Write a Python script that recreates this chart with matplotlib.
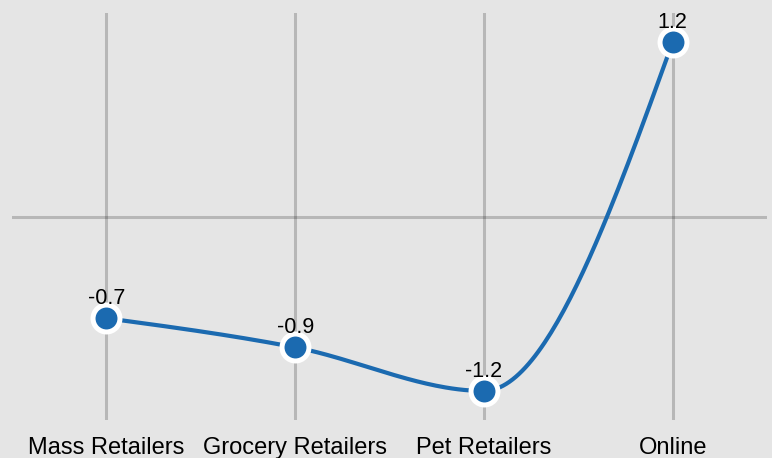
import numpy as np
import matplotlib
matplotlib.use("Agg")
import matplotlib.pyplot as plt

categories = ["Mass Retailers", "Grocery Retailers", "Pet Retailers", "Online"]
values = [-0.7, -0.9, -1.2, 1.2]
value_labels = ["-0.7", "-0.9", "-1.2", "1.2"]

BG = "#e5e5e5"
LINE = "#1b6ab0"

plt.rcParams["font.family"] = ["Liberation Sans", "DejaVu Sans"]


def monotone_x(xs, ys, n=60):
    xs = np.asarray(xs, float)
    ys = np.asarray(ys, float)
    h = np.diff(xs)
    s = np.diff(ys) / h
    m = len(xs)
    t = np.zeros(m)
    for i in range(1, m - 1):
        p = (s[i - 1] * h[i] + s[i] * h[i - 1]) / (h[i - 1] + h[i])
        t[i] = (np.sign(s[i - 1]) + np.sign(s[i])) * min(abs(s[i - 1]), abs(s[i]), 0.5 * abs(p))
    t[0] = (3 * s[0] - t[1]) / 2
    t[-1] = (3 * s[-1] - t[-2]) / 2
    px, py = [], []
    for i in range(m - 1):
        u = np.linspace(0, 1, n)
        h00 = 2 * u**3 - 3 * u**2 + 1
        h10 = u**3 - 2 * u**2 + u
        h01 = -2 * u**3 + 3 * u**2
        h11 = u**3 - u**2
        yy = h00 * ys[i] + h10 * h[i] * t[i] + h01 * ys[i + 1] + h11 * h[i] * t[i + 1]
        xx = xs[i] + u * h[i]
        px.append(xx)
        py.append(yy)
    return np.concatenate(px), np.concatenate(py)


W, H = 772, 458
fig = plt.figure(figsize=(W / 100, H / 100), dpi=100, facecolor=BG)
ax = fig.add_axes([12 / W, (H - 420) / H, (767 - 12) / W, (420 - 13) / H])
ax.set_facecolor(BG)

x = np.arange(len(categories))
ax.set_xlim(-0.5, len(categories) - 0.5)
ax.set_ylim(-1.4, 1.4)

for xi in x:
    ax.axvline(xi, color="black", alpha=0.2, lw=2.2, zorder=1)
ax.axhline(0, color="black", alpha=0.2, lw=2.2, zorder=1)

cx, cy = monotone_x(x, values)
ax.plot(cx, cy, color=LINE, lw=3.0, zorder=3, solid_capstyle="round")
ax.plot(x, values, "o", ms=19.4, mfc=LINE, mec="white", mew=3.6, zorder=4)

for xi, v, lab in zip(x, values, value_labels):
    ax.annotate(lab, (xi, v), xytext=(0, 10), textcoords="offset points",
                ha="center", va="baseline", fontsize=15.5, color="black", zorder=5)

ax.set_xticks(x)
ax.set_xticklabels(categories, fontsize=17)
ax.tick_params(axis="x", length=0, pad=12.5)
ax.set_yticks([])
for sp in ax.spines.values():
    sp.set_visible(False)

fig.savefig("out.png", dpi=100, facecolor=BG)
